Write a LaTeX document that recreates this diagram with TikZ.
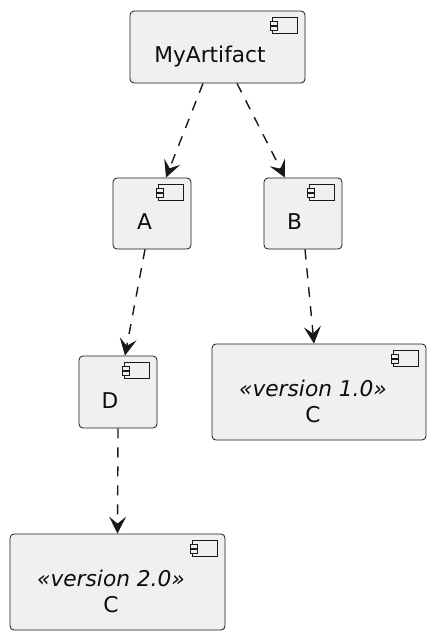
\documentclass[tikz,border=0pt]{standalone}
\usepackage{fontspec}
\setmainfont{DejaVu Sans}
\usetikzlibrary{arrows.meta, positioning, calc}

\begin{document}
\begin{tikzpicture}[
  x=1pt, y=-1pt,
  box/.style={rectangle, rounded corners=4pt, draw=black!90, fill=black!6,
              line width=0.8pt, inner sep=0pt},
  tag/.style={font=\fontsize{21.7}{26}\selectfont, text=black!95, align=center, inner sep=0pt},
  icon/.style={draw=black!90, fill=black!6, line width=0.8pt},
  dep/.style={line width=1.4pt, draw=black!90, dash pattern=on 10pt off 9pt,
              -{Stealth[length=17pt, width=17pt, inset=7pt, line width=1.2pt, sep=0pt]}}
]
\useasboundingbox (0,0) rectangle (434,640);

% -- Component boxes --
\node[box, minimum width=175pt, minimum height=72pt] (art) at (217.5,47)  {};
\node[box, minimum width=78pt,  minimum height=71pt] (a)   at (152,213.5) {};
\node[box, minimum width=78pt,  minimum height=71pt] (b)   at (303,213.5) {};
\node[box, minimum width=78pt,  minimum height=72pt] (d)   at (118,392)   {};
\node[box, minimum width=214pt, minimum height=96pt] (cone) at (319,392)  {};
\node[box, minimum width=215pt, minimum height=96pt] (ctwo) at (117.5,582) {};

% -- Component icons --
\foreach \n in {art, a, b, d, cone, ctwo} {
  \draw[icon] ([xshift=-33pt, yshift=-6.5pt]\n.north east) rectangle ([xshift=-8pt, yshift=-23pt]\n.north east);
  \draw[icon] ([xshift=-35pt, yshift=-10.5pt]\n.north east) rectangle ([xshift=-28pt, yshift=-14.5pt]\n.north east);
  \draw[icon] ([xshift=-35pt, yshift=-16pt]\n.north east) rectangle ([xshift=-28pt, yshift=-20pt]\n.north east);
}

% -- Labels --
\node[tag, anchor=base] (artlabel) at (210,62.5)  {MyArtifact};
\node[tag, anchor=base] (alabel)   at (144.5,229) {A};
\node[tag, anchor=base] (blabel)   at (294.5,229) {B};
\node[tag, anchor=base] (dlabel)   at (110,408) {D};
\node[tag] (conelabel) at (313,401) {\textit{«version 1.0»}\\C};
\node[tag] (ctwolabel) at (111,591) {\textit{«version 2.0»}\\C};

% -- Dependencies --
\draw[dep] ([xshift=-14.5pt]art.south) -- ([xshift=14pt]a.north);
\draw[dep] ([xshift=19.5pt]art.south)  -- ([xshift=-18pt]b.north);
\draw[dep] ([xshift=-7pt]a.south)      -- ([xshift=7pt]d.north);
\draw[dep] ([xshift=2pt]b.south)       -- ([xshift=-5pt]cone.north);
\draw[dep] (d.south)                   -- (ctwo.north);
\end{tikzpicture}
\end{document}
